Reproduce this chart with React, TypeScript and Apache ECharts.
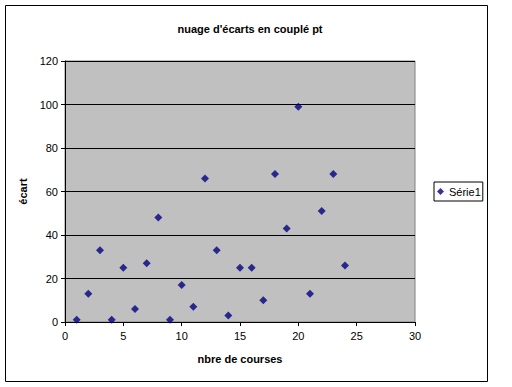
import React, { useEffect, useRef } from "react";
import * as echarts from "echarts";

const xValues = [1, 2, 3, 4, 5, 6, 7, 8, 9, 10, 11, 12, 13, 14, 15, 16, 17, 18, 19, 20, 21, 22, 23, 24];
const yValues = [1, 13, 33, 1, 25, 6, 27, 48, 1, 17, 7, 66, 33, 3, 25, 25, 10, 68, 43, 99, 13, 51, 68, 26];
const seriesName = "Série1";
const titleText = "nuage d'écarts en couplé pt";
const xAxisName = "nbre de courses";
const yAxisName = "écart";

const FONT = "'Liberation Sans', Arial, sans-serif";

export default function App() {
  const ref = useRef<HTMLDivElement>(null);
  useEffect(() => {
    document.body.style.margin = "0";
    const chart = echarts.init(ref.current!, null, { renderer: "svg" });
    const data = xValues.map((x, i) => [x, yValues[i]]);
    chart.setOption({
      animation: false,
      backgroundColor: "#ffffff",
      textStyle: { fontFamily: FONT },
      title: {
        text: titleText,
        left: 245,
        textAlign: "center",
        top: 18,
        textStyle: { fontFamily: FONT, fontSize: 11, fontWeight: "bold", color: "#000" },
      },
      graphic: [
        {
          type: "rect",
          shape: { x: 5.5, y: 5.5, width: 482, height: 376 },
          style: { fill: "none", stroke: "#000", lineWidth: 1 },
          silent: true,
          z: 100,
        },
      ],
      legend: {
        left: 434,
        top: 182,
        orient: "vertical",
        data: [{ name: seriesName, icon: "diamond" }],
        itemWidth: 7,
        itemHeight: 7,
        itemGap: 4,
        padding: [4, 2, 4, 3],
        borderColor: "#000",
        borderWidth: 1,
        backgroundColor: "#fff",
        textStyle: { fontFamily: FONT, fontSize: 11, color: "#000" },
      },
      grid: {
        left: 65,
        top: 61,
        width: 350,
        height: 261,
        show: true,
        backgroundColor: "#C0C0C0",
        borderColor: "#808080",
        borderWidth: 1,
      },
      xAxis: {
        type: "value",
        min: 0,
        max: 30,
        interval: 5,
        name: xAxisName,
        nameLocation: "middle",
        nameGap: 31,
        nameTextStyle: { fontFamily: FONT, fontSize: 11, fontWeight: "bold", color: "#000" },
        axisLine: { show: true, onZero: false, lineStyle: { color: "#000", width: 1 } },
        axisTick: { show: true, inside: false, length: 4, lineStyle: { color: "#000" } },
        axisLabel: { fontFamily: FONT, fontSize: 11, color: "#000", margin: 8 },
        splitLine: { show: false },
      },
      yAxis: {
        type: "value",
        min: 0,
        max: 120,
        interval: 20,
        name: yAxisName,
        nameLocation: "middle",
        nameGap: 33,
        nameRotate: 90,
        nameTextStyle: { fontFamily: FONT, fontSize: 11, fontWeight: "bold", color: "#000" },
        axisLine: { show: true, onZero: false, lineStyle: { color: "#000", width: 1 } },
        axisTick: { show: true, inside: false, length: 4, lineStyle: { color: "#000" } },
        axisLabel: { fontFamily: FONT, fontSize: 11, color: "#000", margin: 7 },
        splitLine: { show: true, lineStyle: { color: "#000", width: 1 } },
      },
      series: [
        {
          name: seriesName,
          type: "scatter",
          data,
          symbol: "diamond",
          symbolSize: 8,
          itemStyle: { color: "#000080" },
        },
      ],
    });
    return () => chart.dispose();
  }, []);
  return <div ref={ref} style={{ width: 512, height: 387 }} />;
}
